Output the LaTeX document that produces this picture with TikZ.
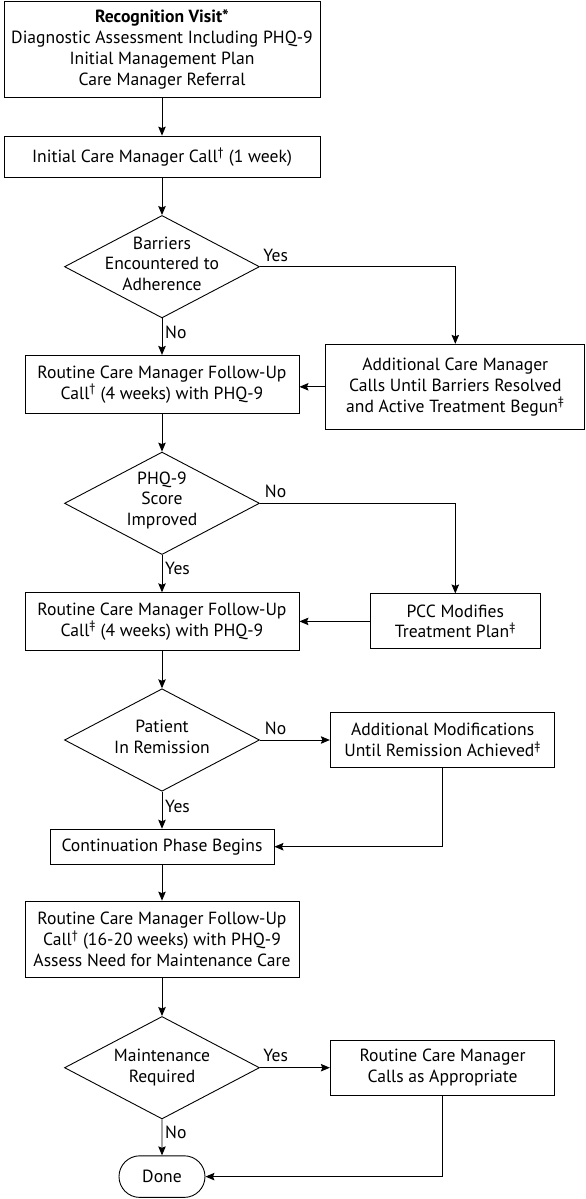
\documentclass[tikz,border=0pt]{standalone}
\usepackage{fontspec}
\setmainfont{PT Sans}
\usetikzlibrary{shapes.geometric,shapes.misc,arrows.meta,calc}
\newcommand\myfs{\fontsize{17.6}{20.8}\selectfont}
\begin{document}
\begin{tikzpicture}[x=1pt,y=-1pt,
  every node/.style={font=\myfs},
  box/.style={draw,line width=0.9pt,inner sep=0pt,align=center},
  dia/.style={draw,diamond,line width=0.9pt,minimum width=195pt,minimum height=102.5pt,inner sep=0pt},
  dtext/.style={align=center,inner sep=0pt},
  lab/.style={inner sep=0pt},
  arr/.style={-{Stealth[length=9pt,width=7.5pt,inset=1.5pt]},line width=0.9pt},
  ln/.style={line width=0.9pt}]
\useasboundingbox (0,0) rectangle (586,1199);
% main column
\node[box,minimum width=316pt,minimum height=96.7pt] (b1) at (162,49.4)
  {\textbf{Recognition Visit*}\\Diagnostic Assessment Including PHQ-9\\Initial Management Plan\\Care Manager Referral};
\node[box,minimum width=316pt,minimum height=41.7pt] (b2) at (162,156.9)
  {Initial Care Manager Call\textsuperscript{\dag} (1 week)};
\node[dia] (d1) at (162,266.7) {};
\node[dtext] (d1t) at ($(d1)+(0,-3)$) {Barriers\\Encountered to\\Adherence};
\node[box,minimum width=274pt,minimum height=58.3pt] (b3) at (162,384.5)
  {Routine Care Manager Follow-Up\\Call\textsuperscript{\dag} (4 weeks) with PHQ-9};
\node[dia] (d2) at (162,503.3) {};
\node[dtext] (d2t) at ($(d2)+(0,-3)$) {PHQ-9\\Score\\Improved};
\node[box,minimum width=274pt,minimum height=57.3pt] (b4) at (162,621.4)
  {Routine Care Manager Follow-Up\\Call\textsuperscript{\ddag} (4 weeks) with PHQ-9};
\node[dia] (d3) at (162,740) {};
\node[dtext] (d3t) at ($(d3)+(0,-3)$) {Patient\\In Remission};
\node[box,minimum width=224pt,minimum height=35pt] (cont) at (162,846.7)
  {Continuation Phase Begins};
\node[box,minimum width=274pt,minimum height=76.3pt] (b5) at (162,939.2)
  {Routine Care Manager Follow-Up\\Call\textsuperscript{\dag} (16-20 weeks) with PHQ-9\\Assess Need for Maintenance Care};
\node[dia] (d4) at (162,1067.7) {};
\node[dtext] (d4t) at ($(d4)+(0,0)$) {Maintenance\\Required};
\node[draw,rounded rectangle,line width=0.9pt,minimum width=86pt,minimum height=41.6pt,inner sep=0pt] (done) at (162,1176.6) {Done};
% right column
\node[box,minimum width=259pt,minimum height=85pt] (add) at (455.3,386.8)
  {Additional Care Manager\\Calls Until Barriers Resolved\\and Active Treatment Begun\textsuperscript{\ddag}};
\node[box,minimum width=170.7pt,minimum height=55pt] (pcc) at (455.3,621.4)
  {PCC Modifies\\Treatment Plan\textsuperscript{\ddag}};
\node[box,minimum width=224.6pt,minimum height=55pt] (am) at (442.6,740)
  {Additional Modifications\\Until Remission Achieved\textsuperscript{\ddag}};
\node[box,minimum width=224.6pt,minimum height=55pt] (rc) at (442.6,1067.7)
  {Routine Care Manager\\Calls as Appropriate};
% labels
\node[lab] (y1) at (275.6,255) {Yes};
\node[lab,anchor=west] (n1) at (165,332.7) {No};
\node[lab] (n2) at (275.6,491.7) {No};
\node[lab,anchor=west] (y2) at (165,568.3) {Yes};
\node[lab] (n3) at (275.6,728.3) {No};
\node[lab,anchor=west] (y3) at (165,806) {Yes};
\node[lab] (y4) at (275.6,1055) {Yes};
\node[lab,anchor=west] (n4) at (165,1132.7) {No};
% connectors
\draw[arr] (b1) -- (b2);
\draw[arr] (b2) -- (d1);
\draw[arr] (d1.east) -| (add.north);
\draw[arr] (d1) -- (b3);
\draw[arr] (add.west) -- (add.west -| b3.east);
\draw[arr] (b3) -- (d2);
\draw[arr] (d2.east) -| (pcc.north);
\draw[arr] (d2) -- (b4);
\draw[arr] (pcc.west) -- (pcc.west -| b4.east);
\draw[arr] (b4) -- (d3);
\draw[arr] (d3.east) -- (am.west);
\draw[arr] (d3) -- (cont);
\draw[arr] (am.south) |- (cont.east);
\draw[arr] (cont) -- (b5);
\draw[arr] (b5) -- (d4);
\draw[arr] (d4.east) -- (rc.west);
\draw[arr] (d4) -- (done);
\draw[arr] (rc.south) |- (done.east);
\end{tikzpicture}
\end{document}
